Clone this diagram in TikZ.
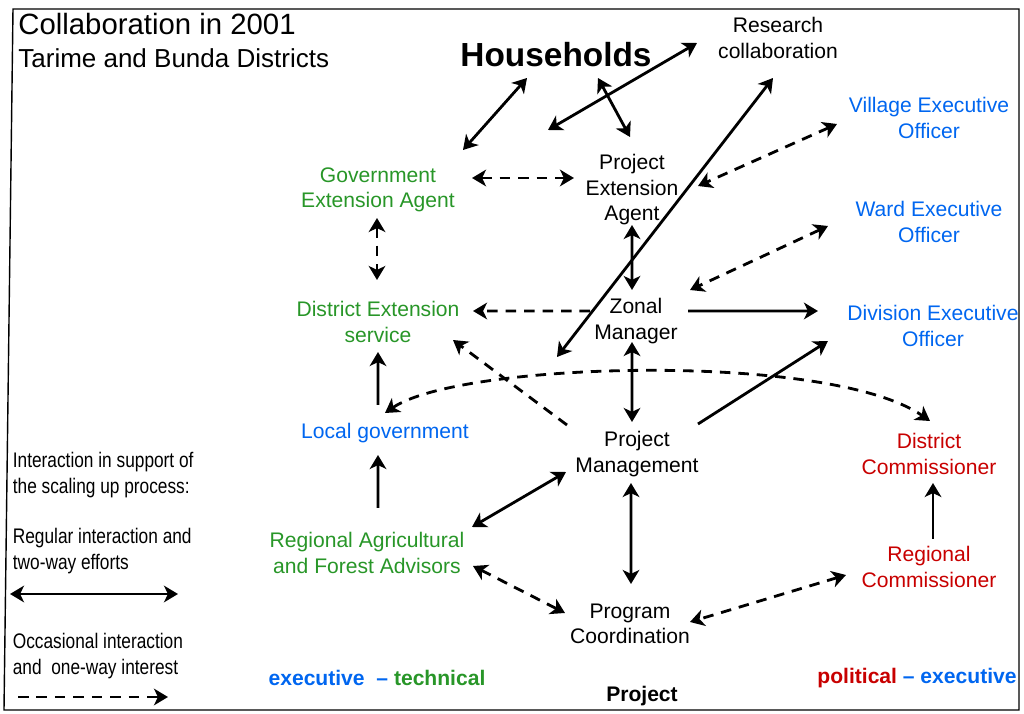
\documentclass[tikz,border=0pt]{standalone}
\usepackage{fontspec}
\setmainfont{Liberation Sans}
\newfontfamily\narrowfont[FakeStretch=0.82]{Liberation Sans}
\usepackage{xcolor}
\usepackage{tikz}
\usetikzlibrary{arrows.meta, positioning}

\definecolor{techgreen}{RGB}{40,150,40}
\definecolor{execblue}{RGB}{0,102,240}
\definecolor{polred}{RGB}{200,0,0}

\tikzset{
  lbl/.style={align=center, font=\fontsize{12}{14.5}\selectfont, inner sep=1pt},
  tech/.style={lbl, text=techgreen},
  exe/.style={lbl, text=execblue},
  pol/.style={lbl, text=polred},
  legend/.style={anchor=west, align=left, inner sep=0pt,
    font=\narrowfont\fontsize{12}{14.7}\selectfont},
  tip/.tip={Stealth[length=8pt, width=9.5pt, inset=2.3pt]},
  twoway/.style={tip-tip, line width=1.6pt},
  oneway/.style={-tip, line width=1.6pt},
  occ/.style={dash pattern=on 6pt off 4.5pt},
}

\begin{document}
\begin{tikzpicture}[node distance=2cm, on grid]
\useasboundingbox (0,0) rectangle (20.48,14.28);
\draw[line width=0.8pt] (0.26,14.10) -- (20.38,14.10) -- (20.38,0.08) -- (0.08,0.08) -- cycle;

% Titre et légende
\node[anchor=west, inner sep=0pt, font=\fontsize{16.7}{20}\selectfont] (title) at (0.36,13.80) {Collaboration in 2001};
\node[anchor=west, inner sep=0pt, font=\fontsize{14.8}{18}\selectfont] (subtitle) at (0.36,13.12) {Tarime and Bunda Districts};
\node[legend] (lgd0) at (0.25,4.78) {Interaction in support of\\the scaling up process:};
\node[legend] (lgd1) at (0.25,3.26) {Regular interaction and\\two-way efforts};
\node[legend] (lgd2) at (0.25,1.16) {Occasional interaction\\and\ \ one-way interest};
\coordinate (reg a) at (0.20,2.40);
\coordinate (reg b) at (3.56,2.40);
\coordinate (occ a) at (0.36,0.34);
\coordinate (occ b) at (3.36,0.34);
\draw[twoway] (reg a) -- (reg b);
\draw[oneway, occ] (occ a) -- (occ b);

% Acteurs
\node[font=\fontsize{19}{22}\selectfont\bfseries] (hh) at (11.12,13.18) {Households};
\node[lbl] (rc) at (15.56,13.52) {Research\\collaboration};
\node[tech] (gea) at (7.56,10.48) {Government\\Extension Agent};
\node[lbl, right=5.08cm of gea] (pea) {Project\\Extension\\Agent};
\node[tech, below=2.64cm of gea] (des) {District Extension\\service};
\node[exe] (lg) at (7.70,5.62) {Local government};
\node[tech] (rafa) at (7.34,3.22) {Regional Agricultural\\and Forest Advisors};
\node[lbl] (zm) at (12.72,7.86) {Zonal\\Manager};
\node[lbl] (pm) at (12.74,5.20) {Project\\Management};
\node[lbl] (pc) at (12.60,1.80) {Program\\Coordination};
\node[exe] (veo) at (18.58,11.92) {Village Executive\\Officer};
\node[exe, below=2.08cm of veo] (weo) {Ward Executive\\Officer};
\node[exe] (deo) at (18.66,7.76) {Division Executive\\Officer};
\node[pol] (dc) at (18.58,5.20) {District\\Commissioner};
\node[pol, below=2.26cm of dc] (rcm) {Regional\\Commissioner};

% Bas de page
\node[font=\fontsize{12}{14}\selectfont\bfseries] (et) at (7.54,0.72) {\textcolor{execblue}{executive\ \ --} \textcolor{techgreen}{technical}};
\node[font=\fontsize{12}{14}\selectfont\bfseries] (pe) at (18.34,0.72) {\textcolor{polred}{political} \textcolor{execblue}{-- executive}};
\node[font=\fontsize{12}{14}\selectfont\bfseries] (proj) at (12.84,0.35) {Project};

% Interactions régulières
\path[twoway]
  ([shift={(-0.58,-0.46)}]hh.center) edge ([shift={(1.70,0.80)}]gea.center)
  ([shift={(0.84,-0.46)}]hh.center) edge ([shift={(-0.04,1.06)}]pea.center)
  ([shift={(-1.62,-0.10)}]rc.center) edge ([shift={(-0.16,-1.50)}]hh.center)
  ([shift={(-0.10,-0.80)}]rc.center) edge ([shift={(-1.58,-0.72)}]zm.center)
  ([shift={(0,-0.70)}]pea.center) edge ([shift={(-0.08,0.62)}]zm.center)
  ([shift={(-0.08,-0.42)}]zm.center) edge ([shift={(-0.10,0.64)}]pm.center)
  ([shift={(2.10,0.52)}]rafa.center) edge ([shift={(-1.42,-0.36)}]pm.center)
  ([shift={(-0.12,-0.58)}]pm.center) edge ([shift={(0.02,0.80)}]pc.center);
\path[oneway]
  ([shift={(1.04,0.20)}]zm.center) edge ([shift={(-2.30,0.30)}]deo.center)
  ([shift={(1.22,0.60)}]pm.center) edge ([shift={(-2.10,-0.30)}]deo.center)
  ([shift={(-0.14,0.56)}]lg.center) edge ([shift={(0,-0.60)}]des.center)
  ([shift={(0.22,0.90)}]rafa.center) edge ([shift={(-0.14,-0.44)}]lg.center)
  ([shift={(0.08,0.56)}]rcm.center) edge ([shift={(0.08,-0.58)}]dc.center);

% Interactions occasionnelles
\path[twoway, occ]
  ([shift={(1.88,0.24)}]gea.center) edge ([shift={(-1.16,0.24)}]pea.center)
  ([shift={(-1.84,-0.12)}]veo.center) edge ([shift={(1.32,0.08)}]pea.center)
  ([shift={(-0.02,-0.56)}]gea.center) edge ([shift={(-0.02,0.84)}]des.center)
  ([shift={(-2.02,-0.08)}]weo.center) edge ([shift={(1.08,0.62)}]zm.center)
  ([shift={(2.12,-0.26)}]rafa.center) edge ([shift={(-1.30,0.22)}]pc.center)
  ([shift={(-1.66,-0.16)}]rcm.center) edge ([shift={(1.20,0.04)}]pc.center);
\path[oneway, occ]
  ([shift={(-0.92,0.20)}]zm.center) edge ([shift={(1.90,0.22)}]des.center)
  ([shift={(-1.40,0.58)}]pm.center) edge ([shift={(1.50,-0.36)}]des.center);
\draw[twoway, occ] ([shift={(0,0.40)}]lg.center) .. controls (9.2,7.05) and (16.6,7.25) .. ([shift={(0.02,0.66)}]dc.center);

\end{tikzpicture}
\end{document}
